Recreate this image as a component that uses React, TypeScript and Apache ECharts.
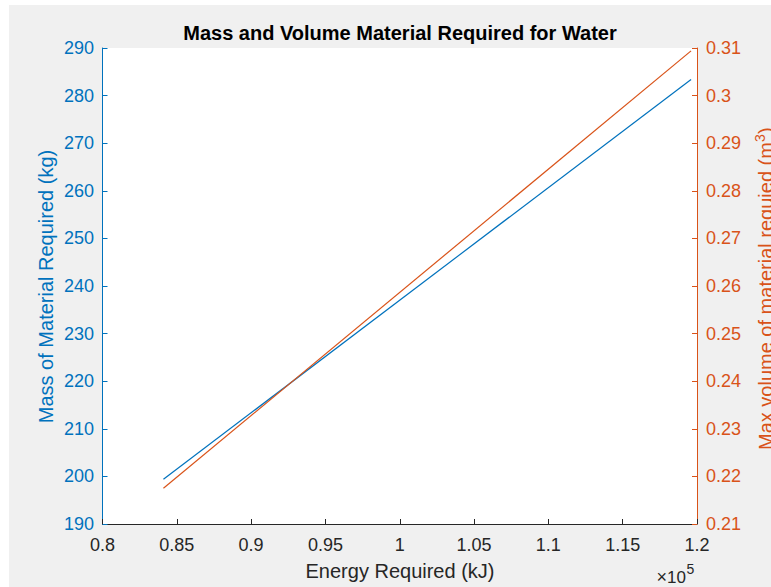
import React, { useEffect, useRef } from "react";
import * as echarts from "echarts";

const energyKJ = [84100, 119600];
const massKg = [199.4, 283.4];
const volumeM3 = [0.2175, 0.3094];

const xTitle = "Energy Required (kJ)";
const yLeftTitle = "Mass of Material Required (kg)";
const yRightTitleMain = "Max volume of material requied (m";
const yRightTitleSup = "3";
const yRightTitleEnd = ")";
const chartTitle = "Mass and Volume Material Required for Water";

const BLUE = "#0072BD";
const ORANGE = "#D95319";
const DARK = "#262626";
const FONT = "Liberation Sans, Arial, Helvetica, sans-serif";

export default function App() {
  const ref = useRef<HTMLDivElement>(null);
  useEffect(() => {
    if (!ref.current) return;
    const chart = echarts.init(ref.current, undefined, { renderer: "svg" });
    const fmt = (v: number) => String(+v.toFixed(3));
    chart.setOption({
      animation: false,
      backgroundColor: "transparent",
      textStyle: { fontFamily: FONT },
      grid: {
        left: 102.5,
        right: 74,
        top: 48,
        bottom: 63,
        show: true,
        backgroundColor: "#ffffff",
        borderWidth: 0,
      },
      xAxis: {
        type: "value",
        min: 80000,
        max: 120000,
        interval: 5000,
        axisLine: { show: true, lineStyle: { color: DARK, width: 1 } },
        axisTick: { show: true, inside: true, length: 5, lineStyle: { color: DARK } },
        splitLine: { show: false },
        axisLabel: {
          color: DARK,
          fontSize: 18,
          fontFamily: FONT,
          margin: 12,
          formatter: (v: number) => fmt(v / 1e5),
        },
      },
      yAxis: [
        {
          type: "value",
          position: "left",
          min: 190,
          max: 290,
          interval: 10,
          axisLine: { show: true, lineStyle: { color: BLUE, width: 1 } },
          axisTick: { show: true, inside: true, length: 5, lineStyle: { color: BLUE } },
          splitLine: { show: false },
          axisLabel: { color: BLUE, fontSize: 18, fontFamily: FONT, margin: 8.5, formatter: fmt },
        },
        {
          type: "value",
          position: "right",
          min: 0.21,
          max: 0.31,
          interval: 0.01,
          axisLine: { show: true, lineStyle: { color: ORANGE, width: 1 } },
          axisTick: { show: true, inside: true, length: 5, lineStyle: { color: ORANGE } },
          splitLine: { show: false },
          axisLabel: { color: ORANGE, fontSize: 18, fontFamily: FONT, margin: 9, formatter: fmt },
        },
      ],
      series: [
        {
          type: "line",
          yAxisIndex: 0,
          showSymbol: false,
          lineStyle: { color: BLUE, width: 1.2 },
          itemStyle: { color: BLUE },
          data: energyKJ.map((e, i) => [e, massKg[i]]),
        },
        {
          type: "line",
          yAxisIndex: 1,
          showSymbol: false,
          lineStyle: { color: ORANGE, width: 1.2 },
          itemStyle: { color: ORANGE },
          data: energyKJ.map((e, i) => [e, volumeM3[i]]),
        },
      ],
      graphic: [
        {
          type: "text",
          x: 400,
          y: 33,
          style: {
            text: chartTitle,
            fontSize: 20,
            fontWeight: "bold",
            fontFamily: FONT,
            fill: "#000",
            textAlign: "center",
            textVerticalAlign: "middle",
          },
        },
        {
          type: "text",
          x: 400,
          y: 571,
          style: {
            text: xTitle,
            fontSize: 20,
            fontFamily: FONT,
            fill: DARK,
            textAlign: "center",
            textVerticalAlign: "middle",
          },
        },
        {
          type: "text",
          x: 667,
          y: 577,
          style: {
            text: "×",
            fontSize: 18,
            fontFamily: FONT,
            fill: DARK,
            textAlign: "right",
            textVerticalAlign: "middle",
          },
        },
        {
          type: "text",
          x: 686,
          y: 577,
          style: {
            text: "10",
            fontSize: 17,
            fontFamily: FONT,
            fill: DARK,
            textAlign: "right",
            textVerticalAlign: "middle",
          },
        },
        {
          type: "text",
          x: 686.5,
          y: 569,
          style: {
            text: "5",
            fontSize: 14,
            fontFamily: FONT,
            fill: DARK,
            textAlign: "left",
            textVerticalAlign: "middle",
          },
        },
        {
          type: "text",
          x: 46,
          y: 286.5,
          rotation: Math.PI / 2,
          style: {
            text: yLeftTitle,
            fontSize: 20,
            fontFamily: FONT,
            fill: BLUE,
            textAlign: "center",
            textVerticalAlign: "middle",
          },
        },
        {
          type: "group",
          x: 773,
          y: 450,
          rotation: Math.PI / 2,
          children: [
            {
              type: "text",
              x: 0,
              y: -7,
              style: {
                text: yRightTitleMain,
                fontSize: 20,
                fontFamily: FONT,
                fill: ORANGE,
                textAlign: "left",
                textVerticalAlign: "middle",
              },
            },
            {
              type: "text",
              x: 308,
              y: -13,
              style: {
                text: yRightTitleSup,
                fontSize: 14,
                fontFamily: FONT,
                fill: ORANGE,
                textAlign: "left",
                textVerticalAlign: "middle",
              },
            },
            {
              type: "text",
              x: 316,
              y: -7,
              style: {
                text: yRightTitleEnd,
                fontSize: 20,
                fontFamily: FONT,
                fill: ORANGE,
                textAlign: "left",
                textVerticalAlign: "middle",
              },
            },
          ],
        },
      ],
    });
    return () => chart.dispose();
  }, []);

  return (
    <div style={{ position: "fixed", left: 0, top: 0, width: 771, height: 587, background: "#ffffff", overflow: "hidden" }}>
      <div style={{ position: "absolute", left: 9, top: 5, width: 762, height: 582, background: "#f0f0f0" }} />
      <div ref={ref} style={{ position: "absolute", left: 0, top: 0, width: 771, height: 587 }} />
    </div>
  );
}
